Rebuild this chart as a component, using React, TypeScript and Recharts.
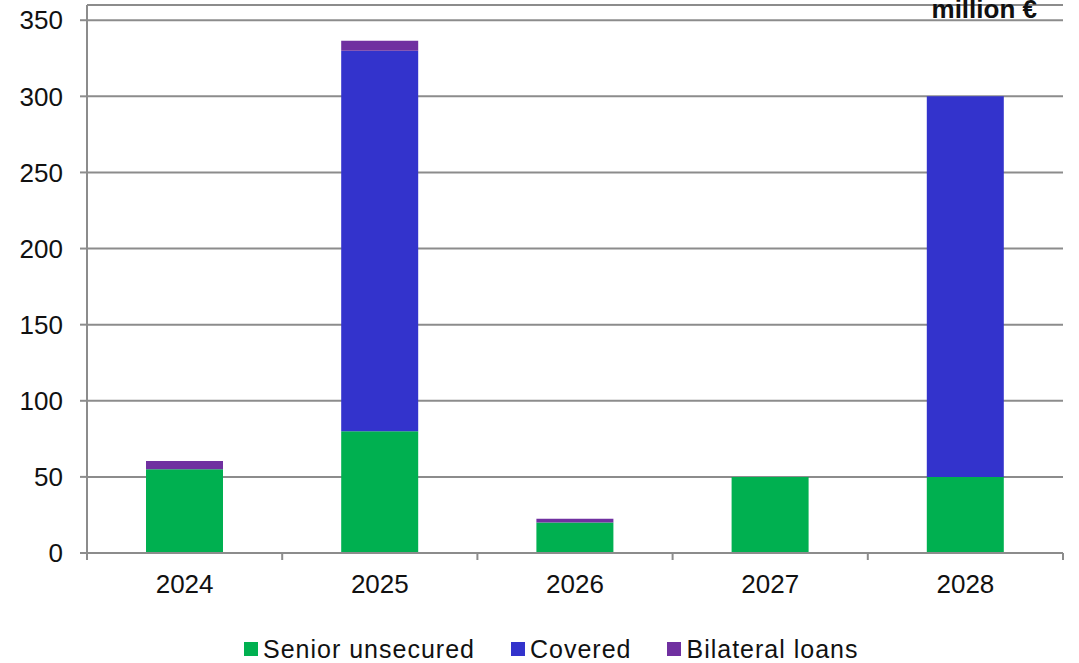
import { BarChart, Bar, XAxis, YAxis, CartesianGrid } from 'recharts';

const years = ['2024', '2025', '2026', '2027', '2028'];
const seniorUnsecured = [55, 80, 20, 50, 50];
const covered = [0, 250, 0, 0, 250];
const bilateralLoans = [5.5, 6.5, 2.5, 0, 0];
const yTicks = [0, 50, 100, 150, 200, 250, 300, 350];

const series = [
  { key: 'senior', name: 'Senior unsecured', color: '#00B050' },
  { key: 'covered', name: 'Covered', color: '#3333CC' },
  { key: 'bilateral', name: 'Bilateral loans', color: '#7030A0' },
];

const data = years.map((year, i) => ({
  year,
  senior: seniorUnsecured[i],
  covered: covered[i],
  bilateral: bilateralLoans[i],
}));

const FONT = '"Liberation Sans", Arial, sans-serif';
const GRID = '#8c8c8c';

// category label plus tick marks on the band edges (Excel style)
const YearTick = (props: any) => {
  const { x, y, payload, index } = props;
  const off = payload.offset || 0;
  const isLast = index === years.length - 1;
  return (
    <g>
      <line x1={x - off} y1={y} x2={x - off} y2={y + 7} stroke={GRID} strokeWidth={2} />
      {isLast && <line x1={x + off} y1={y} x2={x + off} y2={y + 7} stroke={GRID} strokeWidth={2} />}
      <text x={x} y={y + 22} dy="0.71em" textAnchor="middle" fontSize={26} fill="#111" fontFamily={FONT}>
        {payload.value}
      </text>
    </g>
  );
};

export default function App() {
  return (
    <div style={{ position: 'absolute', left: 0, top: 0, width: 1079, height: 663, background: '#fff', fontFamily: FONT, overflow: 'hidden' }}>
      <BarChart width={1079} height={663} data={data} margin={{ top: 5, right: 16, left: 0, bottom: 0 }} barSize={77}>
        <CartesianGrid vertical={false} stroke={GRID} strokeWidth={2} />
        <XAxis
          dataKey="year"
          height={110}
          axisLine={{ stroke: GRID, strokeWidth: 2 }}
          tickLine={false}
          tickSize={0}
          tickMargin={0}
          interval={0}
          tick={<YearTick />}
        />
        <YAxis
          width={87}
          domain={[0, 360]}
          ticks={yTicks}
          interval={0}
          axisLine={{ stroke: GRID, strokeWidth: 2 }}
          tickLine={{ stroke: GRID, strokeWidth: 2 }}
          tickSize={7}
          tickMargin={17}
          tick={{ fontSize: 26, fill: '#111', fontFamily: FONT }}
        />
        {series.map(s => (
          <Bar key={s.key} dataKey={s.key} name={s.name} stackId="a" fill={s.color} isAnimationActive={false} />
        ))}
      </BarChart>
      <div style={{ position: 'absolute', right: 42, top: -4, fontSize: 26, lineHeight: '26px', fontWeight: 'bold', color: '#111', whiteSpace: 'nowrap' }}>
        million €
      </div>
      <div style={{ position: 'absolute', left: 244, top: 636, display: 'flex', alignItems: 'center', gap: 36, fontSize: 25, letterSpacing: 1, lineHeight: '26px', color: '#111', whiteSpace: 'nowrap' }}>
        {series.map(s => (
          <div key={s.key} style={{ display: 'flex', alignItems: 'center', flexShrink: 0 }}>
            <span style={{ display: 'inline-block', width: 14, height: 14, background: s.color, marginRight: 5 }} />
            <span>{s.name}</span>
          </div>
        ))}
      </div>
    </div>
  );
}
